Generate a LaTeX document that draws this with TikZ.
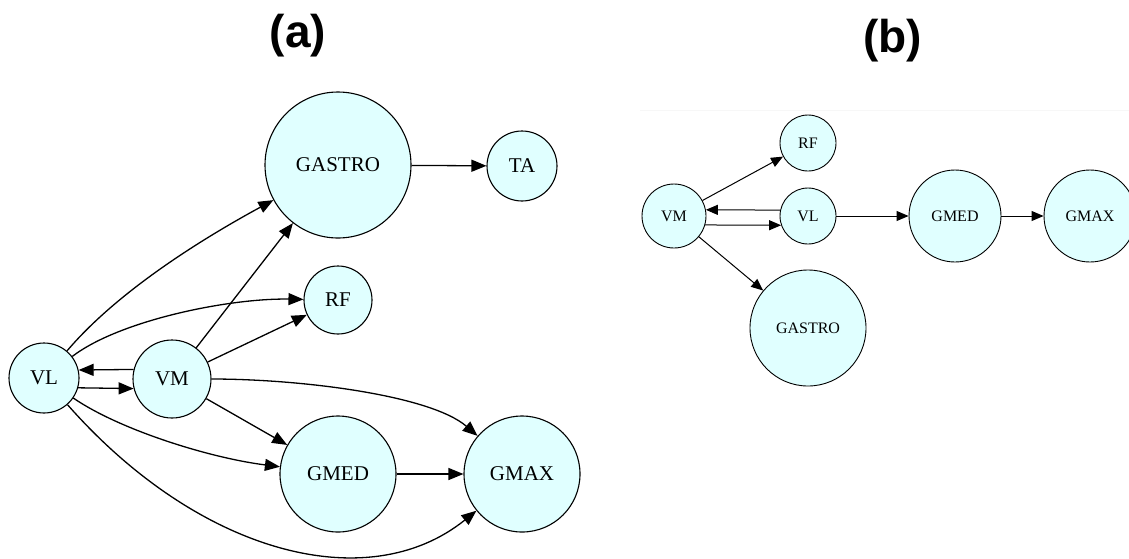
\documentclass[tikz,border=0pt]{standalone}
\usepackage{fontspec}
\setmainfont{Liberation Serif}
\newfontfamily\titlefont{Liberation Sans}
\usetikzlibrary{arrows.meta}
\definecolor{lightcyan}{HTML}{E0FFFF}
\begin{document}
\begin{tikzpicture}[x=1pt,y=-1pt,
  muscle/.style={circle,draw,fill=lightcyan,inner sep=0pt},
  mA/.style={muscle,line width=1.1pt,font=\fontsize{21}{21}\selectfont},
  mB/.style={muscle,line width=0.9pt,font=\fontsize{16}{16}\selectfont},
  edgeA/.style={line width=1.3pt,-{Triangle[length=15pt,width=12pt]}},
  edgeB/.style={line width=1pt,-{Triangle[length=12pt,width=10pt]}},
  paneltitle/.style={anchor=base,font=\titlefont\bfseries\fontsize{46}{46}\selectfont}]
\clip (0,0) rectangle (1129,558);
\useasboundingbox (0,0) rectangle (1129,558);

% panel titles
\node[paneltitle] (titleA) at (298,47) {(a)};
\node[paneltitle] (titleB) at (892.5,52) {(b)};

% ---------- panel (a) ----------
\node[mA,minimum size=146pt] (aGASTRO) at (338,165) {GASTRO};
\node[mA,minimum size=70pt]  (aTA)     at (522,166) {TA};
\node[mA,minimum size=68pt]  (aRF)     at (338,300) {RF};
\node[mA,minimum size=70pt]  (aVL)     at (44,378)  {VL};
\node[mA,minimum size=78pt]  (aVM)     at (172,379) {VM};
\node[mA,minimum size=116pt] (aGMED)   at (338,474) {GMED};
\node[mA,minimum size=116pt] (aGMAX)   at (522,474) {GMAX};

\draw[edgeA] (aGASTRO) -- (aTA);
\draw[edgeA] (aVL) .. controls +(73,-86) and +(-138,75) .. (aGASTRO);
\draw[edgeA] (aVM) -- (aGASTRO);
\draw[edgeA] (aVL) .. controls +(76,-58) and +(-108,-2) .. (aRF);
\draw[edgeA] (aVM) -- (aRF);
\draw[edgeA] (aVM.166) -- (aVL.13);
\draw[edgeA] (aVL.-16) -- (aVM.194);
\draw[edgeA] (aVM) .. controls +(128,0) and +(-92,-79) .. (aGMAX);
\draw[edgeA] (aVM) -- (aGMED);
\draw[edgeA] (aVL) .. controls +(76,52) and +(-128,-16) .. (aGMED);
\draw[edgeA] (aVL) .. controls +(155,176) and +(-154,124) .. (aGMAX);
\draw[edgeA] (aGMED) -- (aGMAX);

% ---------- panel (b) ----------
\draw[black!3,line width=1pt] (640,110) -- (1129,110);
\node[mB,minimum size=56pt]  (bRF)     at (808,143) {RF};
\node[mB,minimum size=64pt]  (bVM)     at (674,216) {VM};
\node[mB,minimum size=56pt]  (bVL)     at (808,216) {VL};
\node[mB,minimum size=92pt]  (bGMED)   at (955,216) {GMED};
\node[mB,minimum size=92pt]  (bGMAX)   at (1090,216) {GMAX};
\node[mB,minimum size=116pt] (bGASTRO) at (808,328) {GASTRO};

\draw[edgeB] (bVM) -- (bRF);
\draw[edgeB] (bVL.168) -- (bVM.11);
\draw[edgeB] (bVM.-16) -- (bVL.199);
\draw[edgeB] (bVM) -- (bGASTRO);
\draw[edgeB] (bVL) -- (bGMED);
\draw[edgeB] (bGMED) -- (bGMAX);
\end{tikzpicture}
\end{document}
